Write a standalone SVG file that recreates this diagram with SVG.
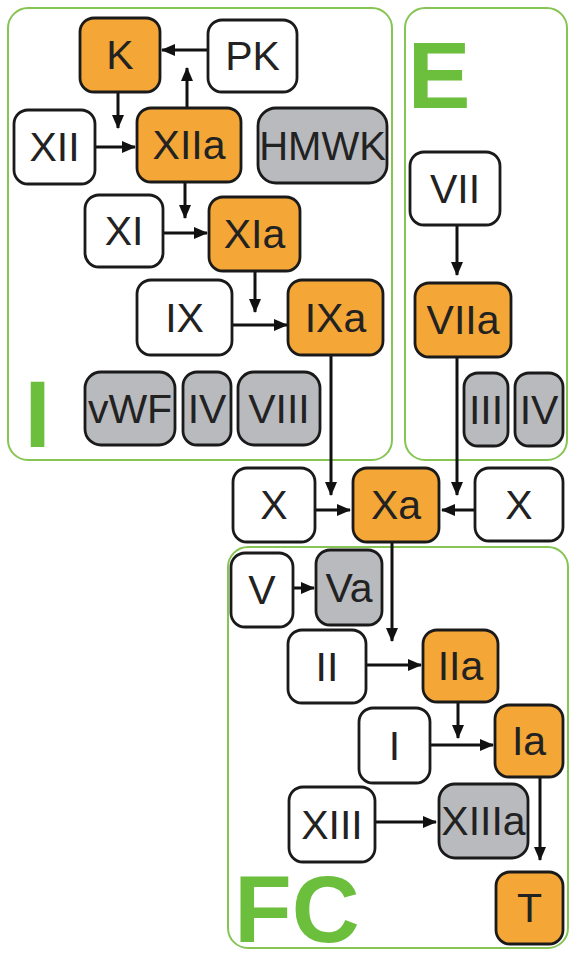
<svg xmlns="http://www.w3.org/2000/svg" width="569" height="973" viewBox="0 0 569 973">
<style>
.panel{fill:#fff;stroke:#86c553;stroke-width:2}
.n rect{stroke:#1a1a1a;stroke-width:2.8}
.w rect{fill:#fff}
.o rect{fill:#f4a636}
.g rect{fill:#b9babd}
.n text{font-family:"Liberation Sans",Arial,sans-serif;font-size:41px;fill:#222;text-anchor:middle}
.big{font-family:"Liberation Sans",Arial,sans-serif;font-weight:bold;font-size:94px;fill:#6cbf3c;text-anchor:middle}
.c line{stroke:#111;stroke-width:3;marker-end:url(#ah)}
</style>
<defs>
<marker id="ah" markerUnits="userSpaceOnUse" markerWidth="14" markerHeight="12" refX="13" refY="6" orient="auto">
<path d="M0,0 L14,6 L0,12 Z" fill="#111"/>
</marker>
</defs>
<rect width="569" height="973" fill="#fff"/>
<g id="panel-I"><rect class="panel" x="8" y="8" width="384" height="452" rx="20"/><text class="big" x="37.5" y="447">I</text></g>
<g id="panel-E"><rect class="panel" x="405" y="8" width="162" height="452" rx="20"/><text class="big" x="439" y="108">E</text></g>
<g id="panel-FC"><rect class="panel" x="228" y="547" width="340" height="401" rx="20"/><text class="big" x="297" y="942">FC</text></g>

<g class="c" id="connectors">
<line x1="208" y1="50" x2="162" y2="50"/>
<line x1="187" y1="108" x2="187" y2="68"/>
<line x1="118" y1="92" x2="118" y2="128"/>
<line x1="95" y1="147" x2="135" y2="147"/>
<line x1="185" y1="182" x2="185" y2="218"/>
<line x1="163" y1="233" x2="207" y2="233"/>
<line x1="255" y1="272" x2="255" y2="312"/>
<line x1="232" y1="325" x2="287" y2="325"/>
<line x1="331" y1="355" x2="331" y2="495"/>
<line x1="457" y1="225" x2="457" y2="275"/>
<line x1="457" y1="357" x2="457" y2="495"/>
<line x1="315" y1="510" x2="350" y2="510"/>
<line x1="475" y1="510" x2="442" y2="510"/>
<line x1="392" y1="542" x2="392" y2="641"/>
<line x1="293" y1="588" x2="314" y2="588"/>
<line x1="366" y1="665" x2="421" y2="665"/>
<line x1="458" y1="702" x2="458" y2="738"/>
<line x1="430" y1="745" x2="493" y2="745"/>
<line x1="540" y1="777" x2="540" y2="860"/>
<line x1="375" y1="822" x2="436" y2="822"/>
</g>

<g id="K" class="n o"><rect x="80" y="18" width="80" height="74" rx="14"/><text x="120" y="69">K</text></g>
<g id="PK" class="n w"><rect x="208" y="20" width="89" height="72" rx="14"/><text x="252.5" y="70">PK</text></g>
<g id="XII" class="n w"><rect x="14" y="110" width="81" height="74" rx="14"/><text x="54.5" y="161">XII</text></g>
<g id="XIIa" class="n o"><rect x="137" y="108" width="104" height="74" rx="14"/><text x="189" y="159">XIIa</text></g>
<g id="HMWK" class="n g"><rect x="258" y="108" width="129" height="75" rx="18"/><text x="322.5" y="160" style="font-size:40px">HMWK</text></g>
<g id="XI" class="n w"><rect x="85" y="195" width="78" height="72" rx="14"/><text x="124" y="245">XI</text></g>
<g id="XIa" class="n o"><rect x="209" y="197" width="91" height="74" rx="14"/><text x="254.5" y="248">XIa</text></g>
<g id="IX" class="n w"><rect x="137" y="280" width="95" height="75" rx="14"/><text x="184.5" y="332">IX</text></g>
<g id="IXa" class="n o"><rect x="288" y="280" width="95" height="75" rx="14"/><text x="335.5" y="332">IXa</text></g>
<g id="vWF" class="n g"><rect x="85" y="372" width="90" height="73" rx="16"/><text x="130" y="423">vWF</text></g>
<g id="IV-I" class="n g"><rect x="183" y="372" width="48" height="73" rx="14"/><text x="207" y="423">IV</text></g>
<g id="VIII" class="n g"><rect x="238" y="372" width="82" height="73" rx="16"/><text x="279" y="423">VIII</text></g>

<g id="VII" class="n w"><rect x="410" y="152" width="90" height="73" rx="14"/><text x="455" y="203">VII</text></g>
<g id="VIIa" class="n o"><rect x="415" y="283" width="96" height="74" rx="14"/><text x="463" y="334">VIIa</text></g>
<g id="III" class="n g"><rect x="464" y="373" width="44" height="73" rx="14"/><text x="486" y="424">III</text></g>
<g id="IV-E" class="n g"><rect x="515" y="373" width="48" height="73" rx="14"/><text x="539" y="424">IV</text></g>

<g id="X-left" class="n w"><rect x="233" y="468" width="82" height="74" rx="14"/><text x="274" y="519">X</text></g>
<g id="Xa" class="n o"><rect x="353" y="468" width="86" height="74" rx="14"/><text x="396" y="519">Xa</text></g>
<g id="X-right" class="n w"><rect x="475" y="468" width="88" height="73" rx="14"/><text x="519" y="519">X</text></g>

<g id="V" class="n w"><rect x="231" y="553" width="62" height="74" rx="14"/><text x="262" y="604">V</text></g>
<g id="Va" class="n g"><rect x="316" y="550" width="66" height="75" rx="14"/><text x="349" y="602">Va</text></g>
<g id="II" class="n w"><rect x="288" y="630" width="78" height="73" rx="14"/><text x="327" y="681">II</text></g>
<g id="IIa" class="n o"><rect x="423" y="630" width="75" height="72" rx="14"/><text x="460.5" y="680">IIa</text></g>
<g id="I" class="n w"><rect x="359" y="708" width="71" height="75" rx="14"/><text x="394.5" y="760">I</text></g>
<g id="Ia" class="n o"><rect x="495" y="705" width="68" height="72" rx="14"/><text x="529" y="755">Ia</text></g>
<g id="XIII" class="n w"><rect x="289" y="787" width="86" height="75" rx="14"/><text x="332" y="839">XIII</text></g>
<g id="XIIIa" class="n g"><rect x="439" y="784" width="89" height="74" rx="16"/><text x="483.5" y="835">XIIIa</text></g>
<g id="T" class="n o"><rect x="496" y="872" width="67" height="72" rx="14"/><text x="529.5" y="922">T</text></g>
</svg>
